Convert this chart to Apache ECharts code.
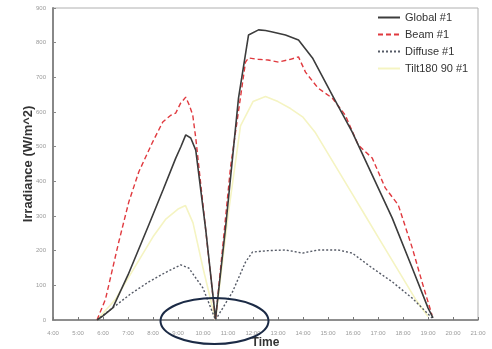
<!DOCTYPE html>
<html>
<head>
<meta charset="utf-8">
<script src="https://cdn.jsdelivr.net/npm/echarts@6/dist/echarts.min.js"></script>
<style>
html,body{margin:0;padding:0;background:#fff;}
#c{width:492px;height:349px;}
</style>
</head>
<body>
<div id="c"></div>
<script>
// Time in hours, irradiance in W/m^2
var xTicks = [4,5,6,7,8,9,10,11,12,13,14,15,16,17,18,19,20,21];
var yTicks = [0,100,200,300,400,500,600,700,800,900];
var seriesNames = ['Global #1','Beam #1','Diffuse #1','Tilt180 90 #1'];

var globalData = [
  [5.76,0],[6.0,12],[6.39,35],[7.0,130],[7.83,274],[8.4,375],[8.91,467],[9.11,499],[9.31,534],
  [9.51,525],[9.71,490],[10.11,260],[10.5,3],
  [10.9,265],[11.42,640],[11.82,822],[12.22,837],[12.5,835],[12.78,831],[13.3,822],[13.82,808],
  [14.38,756],[15.17,649],[15.97,542],[16.77,418],[17.57,294],[18.37,150],[19.0,35],[19.2,6]
];
var beamData = [
  [5.76,0],[6.1,60],[6.63,225],[7.03,340],[7.43,427],[7.99,514],[8.39,571],[8.7,590],[8.91,597],
  [9.1,625],[9.31,643],[9.45,620],[9.59,591],[9.71,525],[10.1,265],[10.5,0],
  [11.1,440],[11.7,744],[11.82,756],[12.2,752],[12.6,750],[13.02,744],[13.5,752],[13.82,759],
  [14.1,715],[14.6,669],[15.17,640],[15.69,591],[16.21,505],[16.77,467],[17.29,381],[17.81,332],
  [18.37,208],[18.76,110],[19.16,14]
];
var diffuseData = [
  [5.76,0],[6.39,35],[7.1,75],[7.83,110],[8.5,137],[9.11,159],[9.43,150],[10.0,92],[10.5,0],
  [11.18,81],[11.7,167],[11.98,196],[12.6,200],[13.3,202],[13.98,193],[14.6,202],[15.4,202],
  [15.97,193],[16.77,150],[17.57,110],[18.37,63],[19.16,6]
];
var tiltData = [
  [5.76,0],[6.5,60],[7.0,120],[7.5,180],[8.0,240],[8.5,290],[9.0,320],[9.3,330],[9.6,280],
  [10.0,150],[10.5,0],
  [11.0,300],[11.5,560],[12.0,630],[12.5,645],[13.0,630],[13.5,610],[14.0,585],[14.5,540],
  [15.0,480],[15.5,420],[16.0,360],[16.5,300],[17.0,240],[17.5,180],[18.0,120],[18.5,60],[19.0,10]
];

var chart = echarts.init(document.getElementById('c'), null, {renderer:'canvas'});
var lbl = {fontSize:6, color:'#9a9a9a', fontFamily:'Liberation Sans'};
var option = {
  backgroundColor:'#fff',
  animation:false,
  grid:{left:53, right:14, top:8, bottom:29, show:true, borderColor:'#b0b0b0', borderWidth:1,
        containLabel:false, outerBoundsMode:'none'},
  legend:{
    orient:'vertical', left:372, top:7, itemGap:6, itemWidth:22, itemHeight:8,
    itemStyle:{opacity:0},
    textStyle:{fontSize:11, color:'#333', fontFamily:'Liberation Sans'},
    data:seriesNames
  },
  xAxis:{
    type:'value', min:xTicks[0], max:xTicks[xTicks.length-1], interval:1,
    name:'Time', nameLocation:'middle', nameGap:17, nameMoveOverlap:false,
    nameTextStyle:{fontSize:12, fontWeight:'bold', color:'#333', fontFamily:'Liberation Sans'},
    axisLine:{lineStyle:{color:'#777', width:1.5}},
    axisTick:{show:true, inside:true, length:3, lineStyle:{color:'#777'}},
    axisLabel:Object.assign({margin:10, formatter:function(v){return v+':00';}}, lbl),
    splitLine:{show:false}
  },
  yAxis:{
    type:'value', min:yTicks[0], max:yTicks[yTicks.length-1], interval:100,
    name:'Irradiance (W/m^2)', nameLocation:'middle', nameGap:18, nameRotate:90, nameMoveOverlap:false,
    nameTextStyle:{fontSize:13, fontWeight:'bold', color:'#333', fontFamily:'Liberation Sans'},
    axisLine:{show:true, lineStyle:{color:'#888', width:2}},
    axisTick:{show:true, inside:true, length:3, lineStyle:{color:'#888'}},
    axisLabel:Object.assign({margin:7}, lbl),
    splitLine:{show:false}
  },
  series:[
    {name:seriesNames[0], type:'line', data:globalData, symbol:'none', z:4,
     lineStyle:{color:'#3c3c3c', width:1.6}, itemStyle:{color:'#3c3c3c'}},
    {name:seriesNames[1], type:'line', data:beamData, symbol:'none', z:3,
     lineStyle:{color:'#e0393e', width:1.4, type:[5,3]}, itemStyle:{color:'#e0393e'}},
    {name:seriesNames[2], type:'line', data:diffuseData, symbol:'none', z:3,
     lineStyle:{color:'#555a66', width:1.4, type:[2,2]}, itemStyle:{color:'#555a66'}},
    {name:seriesNames[3], type:'line', data:tiltData, symbol:'none', z:2,
     lineStyle:{color:'#f5f4c2', width:1.6}, itemStyle:{color:'#f5f4c2'}}
  ]
};
chart.setOption(option);
var ctr = chart.convertToPixel({gridIndex:0}, [10.5, 0]);
chart.setOption({
  graphic:[{
    type:'ellipse', z:100,
    shape:{cx:ctr[0]-1, cy:ctr[1]+1, rx:54, ry:23},
    style:{fill:'none', stroke:'#1b2a45', lineWidth:2}
  }]
});
</script>
</body>
</html>
